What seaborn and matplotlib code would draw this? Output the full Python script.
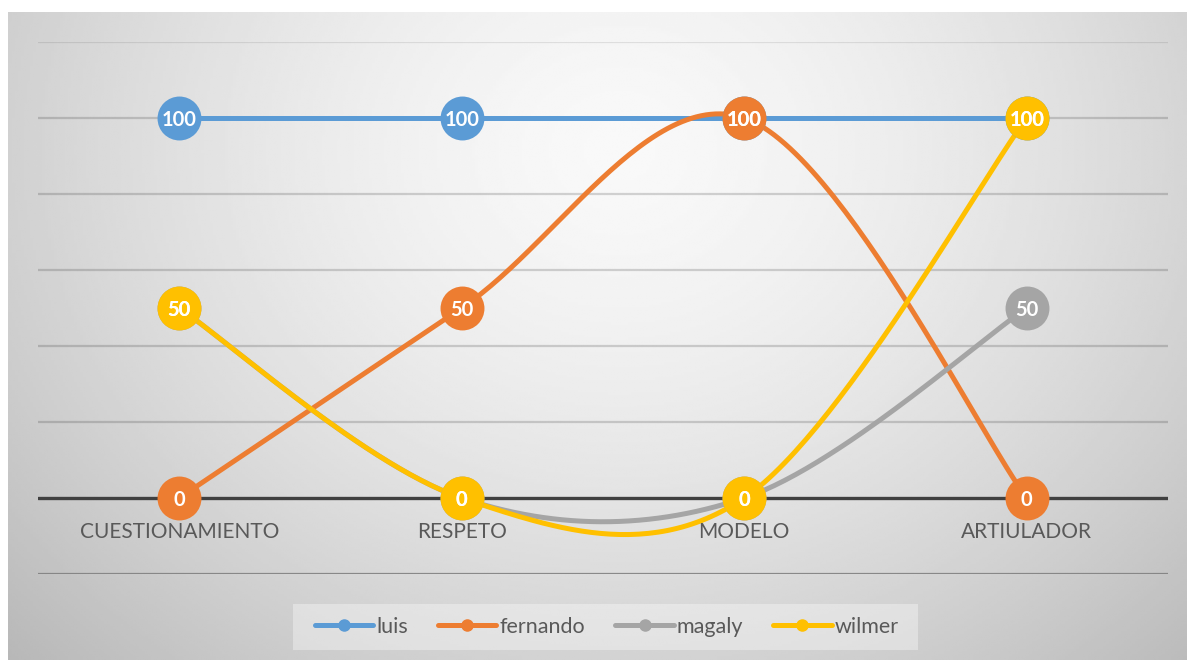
import numpy as np
import pandas as pd
import matplotlib
matplotlib.use("Agg")
import matplotlib.pyplot as plt
import matplotlib.transforms as mtransforms
from matplotlib.lines import Line2D
from matplotlib.patches import Rectangle
import seaborn as sns

# ---- data ----
categories = ["CUESTIONAMIENTO", "RESPETO", "MODELO", "ARTIULADOR"]
series_names = ["luis", "fernando", "magaly", "wilmer"]
luis = [100, 100, 100, 100]
fernando = [0, 50, 100, 0]
magaly = [50, 0, 0, 50]
wilmer = [50, 0, 0, 100]
colors = ["#5B9BD5", "#ED7D31", "#A5A5A5", "#FFC000"]
y_ticks = [-20, 0, 20, 40, 60, 80, 100, 120]

series_values = [luis, fernando, magaly, wilmer]

sns.set_theme(style="white")
plt.rcParams["font.family"] = ["Lato", "DejaVu Sans"]

W, H, DPI = 1187, 660, 100
fig = plt.figure(figsize=(W / DPI, H / DPI), dpi=DPI)
fig.patch.set_facecolor("white")

# ---- radial gradient chart background ----
bg = fig.add_axes([8 / W, 0, 1 - 8 / W, 1 - 12 / H], zorder=0)
gx, gy = np.meshgrid(np.linspace(8, W, 400), np.linspace(12, H, 260))
d = np.sqrt(((gx - 620) / 650) ** 2 + ((gy - 150) / 560) ** 2)
val = np.clip(0.975 - 0.17 * d ** 1.5, 0.72, 1)
bg.imshow(val, cmap="gray", vmin=0, vmax=1, aspect="auto", interpolation="bilinear",
          extent=[0, 1, 0, 1])
bg.set_axis_off()

# ---- plot area ----
left, right = 38 / W, 1168 / W
bottom, top = 1 - 574 / H, 1 - 42 / H
ax = fig.add_axes([left, bottom, right - left, top - bottom], zorder=1)
ax.patch.set_alpha(0)
ax.set_xlim(-0.5, len(categories) - 0.5)
ax.set_ylim(-20, 120)
for s in ax.spines.values():
    s.set_visible(False)

for yt in y_ticks:
    if yt == 0:
        ax.axhline(0, color="#404040", lw=2.4, zorder=3)
    elif yt == -20:
        ax.axhline(yt, color="#808080", lw=1.6, zorder=1, alpha=0.9)
    elif yt == 120:
        ax.axhline(yt, color="black", lw=1.6, zorder=1, alpha=0.09)
    else:
        ax.axhline(yt, color="black", lw=1.6, zorder=1, alpha=0.16)


def smooth(xs, ys, n=60):
    """Excel-like Bezier smoothing through the points."""
    P = np.column_stack([xs, ys]).astype(float)
    out = []
    m = len(P)
    for i in range(m - 1):
        p0 = P[i - 1] if i > 0 else P[i]
        p1, p2 = P[i], P[i + 1]
        p3 = P[i + 2] if i + 2 < m else P[i + 1]
        c1 = p1 + (p2 - p0) / 6
        c2 = p2 - (p3 - p1) / 6
        t = np.linspace(0, 1, n)[:, None]
        seg = ((1 - t) ** 3) * p1 + 3 * ((1 - t) ** 2) * t * c1 + 3 * (1 - t) * t ** 2 * c2 + t ** 3 * p2
        out.append(seg if i == 0 else seg[1:])
    return np.vstack(out)


xs = np.arange(len(categories))
for name, vals, col in zip(series_names, series_values, colors):
    curve = smooth(xs, vals)
    df = pd.DataFrame({"x": curve[:, 0], "y": curve[:, 1]})
    sns.lineplot(data=df, x="x", y="y", sort=False, estimator=None, color=col,
                 lw=3.6, ax=ax, zorder=4, solid_capstyle="round")

lab_tr = mtransforms.offset_copy(ax.transData, fig=fig, x=0, y=-7.5, units="dots")
for name, vals, col in zip(series_names, series_values, colors):
    pts = pd.DataFrame({"x": xs, "y": vals})
    sns.scatterplot(data=pts, x="x", y="y", color=col, s=1000, linewidth=0,
                    ax=ax, zorder=5, legend=False)
    for xi, v in zip(xs, vals):
        ax.text(xi, v, f"{v}", transform=lab_tr, ha="center", va="baseline",
                color="white", fontsize=14.5, fontweight="bold", zorder=6)

ax.set_xlabel("")
ax.set_ylabel("")
ax.set_xticks([])
ax.set_yticks([])

cat_tr = mtransforms.offset_copy(ax.transData, fig=fig, x=0, y=-40, units="dots")
for xi, c in zip(xs, categories):
    ax.text(xi, 0, c, transform=cat_tr, ha="center", va="baseline",
            color="#595959", fontsize=15, zorder=6)

# legend box
fig.patches.append(Rectangle((293 / W, 1 - 650 / H), (918 - 293) / W, 46 / H,
                             transform=fig.transFigure, facecolor="white",
                             alpha=0.35, edgecolor="none", zorder=2))
handles = [Line2D([0], [0], color=c, lw=3.6, marker="o", markersize=8) for c in colors]
leg = fig.legend(handles, series_names, loc="center",
                 bbox_to_anchor=(607 / W, 1 - 627 / H), ncol=4, frameon=False,
                 fontsize=15.5, handlelength=2.7, handletextpad=0.15,
                 columnspacing=1.4, borderpad=0.3)
for t in leg.get_texts():
    t.set_color("#595959")

fig.savefig("out.png", dpi=DPI)
